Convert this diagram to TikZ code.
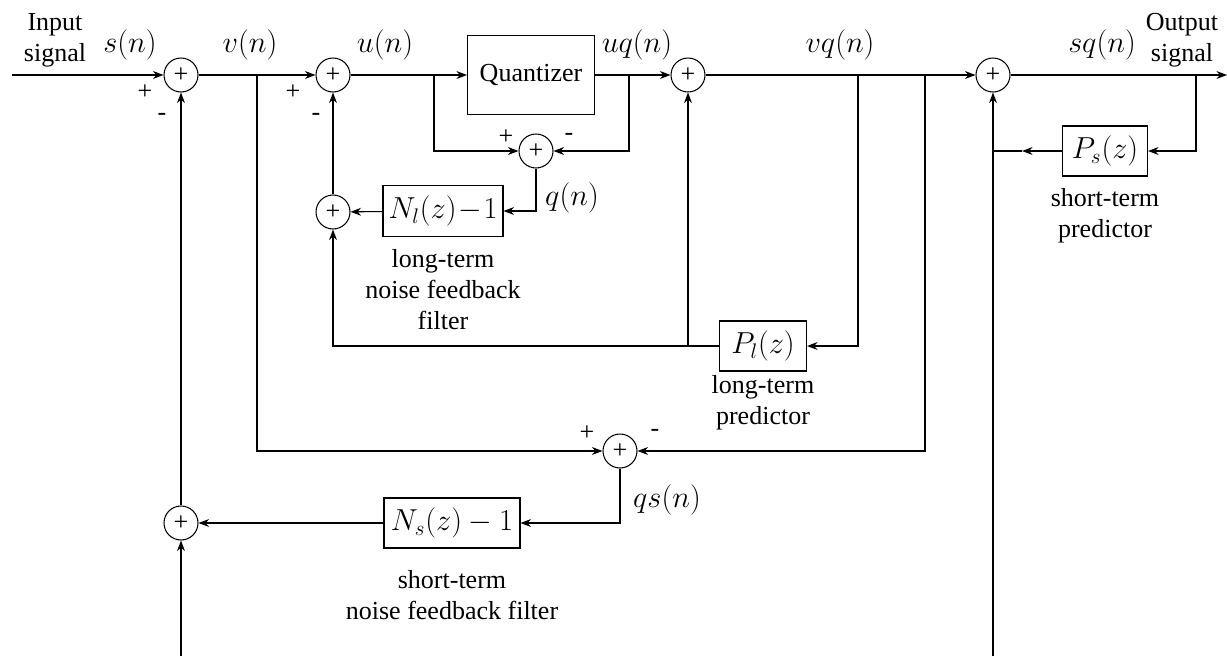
\documentclass[tikz,border=0pt]{standalone}
\usepackage{fontspec}
\setmainfont{LiberationSerif}[Extension=.ttf, UprightFont=*-Regular, ItalicFont=*-Italic, BoldFont=*-Bold]
\usetikzlibrary{arrows.meta, positioning}

\begin{document}
\begin{tikzpicture}[>={Stealth[length=6pt, width=4.5pt]}, x=0.02cm, y=-0.02cm,
    line width=0.6pt, font=\fontsize{14.8}{17.6}\selectfont,
    sum/.style={draw, circle, minimum size=0.68cm, inner sep=0pt},
    blk/.style={draw, rectangle, minimum height=1cm, inner sep=2pt},
    sig/.style={font=\fontsize{16.5}{19}\selectfont},
    note/.style={align=center}]

    \useasboundingbox (0,0) rectangle (1227,656);

    % forward path
    \node[sum] (S1) at (181,75) {+};
    \node[sum] (S2) at (333,75) {+};
    \node[blk, minimum width=2.54cm, minimum height=1.58cm] (Q) at (531,75) {Quantizer};
    \node[sum] (S4) at (688,75) {+};
    \node[sum] (S5) at (993,75) {+};

    % long-term loop
    \node[sum] (S3) at (536,151) {+};
    \node[sum] (S6) at (333,212) {+};
    \node[blk, sig, minimum width=2.4cm, minimum height=1.02cm] (Nl) at (443,211) {$N_l(z)\!-\!1$};
    \node[blk, sig, minimum width=1.74cm] (Pl) at (763,346) {$P_l(z)$};

    % short-term loop
    \node[sum] (S7) at (620,451) {+};
    \node[blk, sig, minimum width=2.72cm] (Ns) at (452,523) {$N_s(z)-1$};
    \node[sum] (S8) at (181,523) {+};
    \node[blk, sig, minimum width=1.7cm] (Ps) at (1105,151) {$P_s(z)$};

    % branch points
    \coordinate (in) at (12,75);
    \coordinate (out) at (1227,75);
    \coordinate (bv) at (257,75);
    \coordinate (bu) at (434,75);
    \coordinate (buq) at (629,75);
    \coordinate (bvq1) at (858,75);
    \coordinate (bvq2) at (925,75);
    \coordinate (bsq) at (1196,75);
    \coordinate (bpl) at (688,346);
    \coordinate (tap) at (1022,151);
    \coordinate (b1) at (181,656);
    \coordinate (b2) at (993,656);

    \draw[->] (in) -- (S1);
    \draw[->] (S1) -- (S2);
    \draw[->] (S2) -- (Q);
    \draw[->] (Q) -- (S4);
    \draw[->] (S4) -- (S5);
    \draw[->] (S5) -- (out);

    \draw[->] (bu) |- (S3);
    \draw[->] (buq) |- (S3);
    \draw[->] (S3) |- (Nl);
    \draw[->] (Nl) -- (S6);
    \draw[->] (S6) -- (S2);
    \draw[->] (bvq1) |- (Pl);
    \draw[->] (Pl) -| (S6);
    \draw[->] (bpl) -- (S4);

    \draw[->] (bv) |- (S7);
    \draw[->] (bvq2) |- (S7);
    \draw[->] (S7) |- (Ns);
    \draw[->] (Ns) -- (S8);
    \draw[->] (S8) -- (S1);
    \draw[->] (b1) -- (S8);

    \draw[->] (bsq) |- (Ps);
    \draw[->] (Ps) -- (tap);
    \draw (tap) -- (S5 |- tap);
    \draw[->] (b2) -- (S5);

    % signal names
    \node[note] at (55,40) {Input\\signal};
    \node[sig] at (130,45) {$s(n)$};
    \node[sig] at (250,45) {$v(n)$};
    \node[sig] at (385,45) {$u(n)$};
    \node[sig] at (637,45) {$uq(n)$};
    \node[sig] at (840,45) {$vq(n)$};
    \node[sig] at (1102,45) {$sq(n)$};
    \node[note] at (1182,40) {Output\\signal};
    \node[sig] at (572,198) {$q(n)$};
    \node[sig] at (667,500) {$qs(n)$};

    % signs
    \node at (145,92) {+};
    \node at (162,117) {-};
    \node at (293,92) {+};
    \node at (316,117) {-};
    \node at (506,137) {+};
    \node at (569,137) {-};
    \node at (587,433) {+};
    \node at (655,433) {-};

    % captions
    \node[note] at (443,290) {long-term\\noise feedback\\filter};
    \node[note] at (763,403) {long-term\\predictor};
    \node[note] at (452,595) {short-term\\noise feedback filter};
    \node[note] at (1105,216) {short-term\\predictor};

\end{tikzpicture}
\end{document}
